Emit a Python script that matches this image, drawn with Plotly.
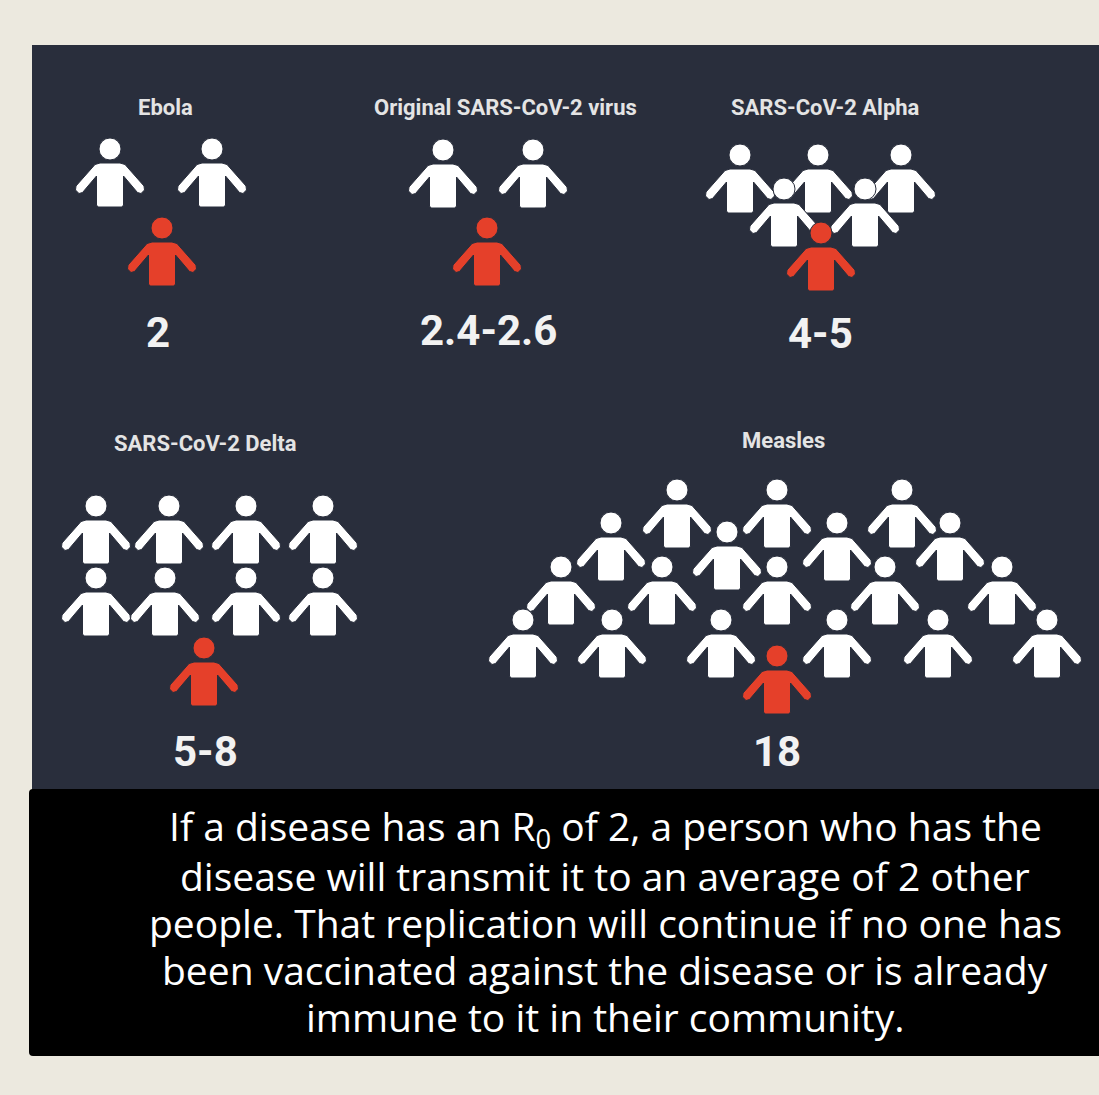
import plotly.graph_objects as go

# ---------------------------------------------------------------------------
# Data
# ---------------------------------------------------------------------------

diseases = ["Ebola", "Original SARS-CoV-2 virus", "SARS-CoV-2 Alpha",
            "SARS-CoV-2 Delta", "Measles"]
r0_labels = ["2", "2.4-2.6", "4-5", "5-8", "18"]
people_infected = [2, 2, 5, 8, 18]

caption_lines = [
    "If a disease has an R<sub>0</sub> of 2, a person who has the",
    "disease will transmit it to an average of 2 other",
    "people. That replication will continue if no one has",
    "been vaccinated against the disease or is already",
    "immune to it in their community.",
]

# ---------------------------------------------------------------------------
# Layout (pixel positions of the pictogram groups)
# ---------------------------------------------------------------------------

W, H = 1099, 1095
BG = "#ECE9DF"
PANEL = "#292E3C"
RED = "#E5402A"
WHITE = "#FFFFFF"

title_pos = [(165, 107), (505, 107), (825, 107), (205, 443), (783, 440)]
value_pos = [(158, 332), (488, 330), (820, 333), (205, 751), (777, 751)]

# head centres of the white people, back rows first so front rows overlap
white_heads = [
    [(110, 149), (212, 149)],
    [(443, 150), (533, 150)],
    [(740, 155), (818, 155), (901, 155), (784, 189), (865, 189)],
    [(96, 506), (169, 506), (246, 506), (323, 506),
     (96, 578), (165, 578), (246, 578), (323, 578)],
    [(677, 490), (777, 490), (902, 490),
     (611, 523), (727, 532), (837, 523), (950, 523),
     (561, 567), (662, 567), (777, 567), (885, 567), (1002, 567),
     (523, 620), (612, 620), (721, 620), (837, 620), (938, 620), (1047, 620)],
]
red_heads = [(162, 228), (487, 228), (821, 233), (204, 648), (777, 656)]

# half outline of a person's body, relative to the head centre (y down)
BODY_RIGHT = [(0, 14), (10, 14), (15, 15.5), (34, 37), (34.5, 41), (31, 44.5),
              (27.5, 43.5), (13.5, 27), (13.5, 56), (12, 58), (0, 58)]
HEAD_R = 11


def person_shapes(cx, cy, color):
    pts = BODY_RIGHT + [(-x, y) for x, y in reversed(BODY_RIGHT)]
    path = "M " + " L ".join(f"{cx + x:.1f},{cy + y:.1f}" for x, y in pts) + " Z"
    body = dict(type="path", path=path, xref="x", yref="y",
                fillcolor=color, line=dict(color=PANEL, width=1), layer="above")
    head = dict(type="circle", xref="x", yref="y",
                x0=cx - HEAD_R, x1=cx + HEAD_R, y0=cy - HEAD_R, y1=cy + HEAD_R,
                fillcolor=color, line=dict(color=PANEL, width=1), layer="above")
    return [body, head]


shapes = [
    # dark panel
    dict(type="rect", xref="x", yref="y", x0=32, x1=1110, y0=45, y1=792,
         fillcolor=PANEL, line=dict(width=0), layer="below"),
    # black caption box
    dict(type="path", xref="x", yref="y",
         path="M 33,789 L 1110,789 L 1110,1056 L 33,1056 Q 29,1056 29,1052 "
              "L 29,793 Q 29,789 33,789 Z",
         fillcolor="#000000", line=dict(width=0), layer="below"),
]

for i, n in enumerate(people_infected):
    assert len(white_heads[i]) == n
    for cx, cy in white_heads[i]:
        shapes += person_shapes(cx, cy, WHITE)
    shapes += person_shapes(*red_heads[i], RED)

annotations = []
for name, (x, y) in zip(diseases, title_pos):
    annotations.append(dict(
        x=x, y=y, xref="x", yref="y", text=name, showarrow=False,
        font=dict(family="Roboto", size=22, color="#E4E4E4", weight=700),
    ))
for val, (x, y) in zip(r0_labels, value_pos):
    annotations.append(dict(
        x=x, y=y, xref="x", yref="y", text=val, showarrow=False,
        font=dict(family="Roboto", size=42, color="#F2F2F2", weight=700),
    ))
for k, line in enumerate(caption_lines):
    annotations.append(dict(
        x=605, y=828 + 47.2 * k, xref="x", yref="y", text=line, showarrow=False,
        font=dict(family="Open Sans", size=39, color="#FFFFFF"),
    ))

fig = go.Figure()
# invisible trace so the axes get drawn with their fixed ranges
fig.add_trace(go.Scatter(x=[0, W], y=[0, H], mode="markers",
                         marker=dict(opacity=0), hoverinfo="skip", showlegend=False))

fig.update_layout(
    width=W,
    height=H,
    margin=dict(l=0, r=0, t=0, b=0),
    paper_bgcolor=BG,
    plot_bgcolor=BG,
    shapes=shapes,
    annotations=annotations,
    xaxis=dict(range=[0, W], visible=False, fixedrange=True),
    yaxis=dict(range=[H, 0], visible=False, fixedrange=True),
)

fig.write_html(
    "out.html",
    config={"displayModeBar": False},
    post_script="document.body.style.margin='0';"
                "document.body.style.background='" + BG + "';",
)
